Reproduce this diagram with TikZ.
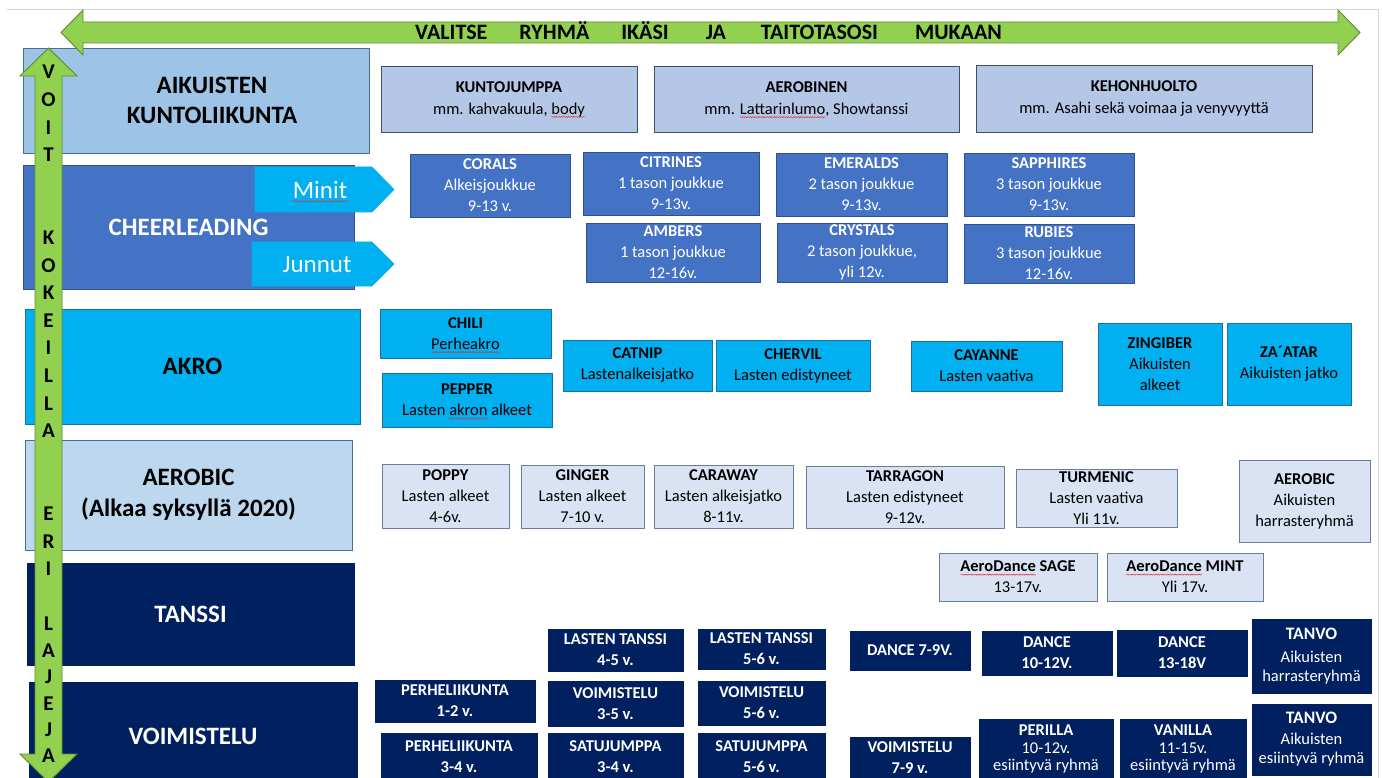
\documentclass[tikz,border=0pt]{standalone}
\usepackage{fontspec}
\setmainfont{Carlito}
\usetikzlibrary{decorations.pathmorphing}
\definecolor{arrowgreen}{HTML}{92D050}
\definecolor{arrowline}{HTML}{5E8C31}
\definecolor{aikfill}{HTML}{9DC3E6}
\definecolor{catline}{HTML}{41719C}
\definecolor{rowone}{HTML}{B4C7E7}
\definecolor{rowoneline}{HTML}{3E4F6B}
\definecolor{cheer}{HTML}{4472C4}
\definecolor{cheerline}{HTML}{2F528F}
\definecolor{akro}{HTML}{00B0F0}
\definecolor{akroline}{HTML}{1A6FA3}
\definecolor{aerocat}{HTML}{BDD7EE}
\definecolor{aerobox}{HTML}{DAE3F3}
\definecolor{aeroline}{HTML}{6B7C99}
\definecolor{navy}{HTML}{002060}
\definecolor{frameline}{HTML}{D3D3D3}
\definecolor{squigred}{HTML}{E03030}
\newsavebox\sqbox
\newlength\sqlen
\newcommand\squig[1]{\sbox\sqbox{#1}\setlength\sqlen{\wd\sqbox}\usebox\sqbox\tikz[overlay]\draw[squigred, line width=0.45pt, decorate, decoration={snake, amplitude=0.6pt, segment length=2.4pt}] (-\sqlen,-2.8pt) -- (0pt,-2.8pt);}
\newcommand\smalltxt{\fontsize{16.5}{17}\selectfont\mdseries}
% \bx{style}{name}{x1}{y1}{x2}{y2}{text}
\newcommand\bx[7]{%
  \pgfmathsetmacro\bxw{#5-#3}\pgfmathsetmacro\bxh{#6-#4}%
  \pgfmathsetmacro\bxcx{(#3+#5)/2}\pgfmathsetmacro\bxcy{(#4+#6)/2}%
  \node[#1, minimum width=\bxw pt, minimum height=\bxh pt] (#2) at (\bxcx,\bxcy) {#7};}
\tikzset{
  box/.style={inner sep=0pt, outer sep=0pt, align=center, line width=0.9pt, anchor=center},
  cat/.style={box, font=\fontsize{25}{30.5}\selectfont\bfseries},
  sm/.style={box, font=\fontsize{16.5}{21}\selectfont},
  r1/.style={sm, font=\fontsize{16.5}{22}\selectfont, fill=rowone, draw=rowoneline},
  ch/.style={sm, fill=cheer, draw=cheerline, text=white},
  ak/.style={sm, fill=akro, draw=akroline},
  ae/.style={sm, fill=aerobox, draw=aeroline},
  nv/.style={box, fill=navy, draw=navy, text=white, font=\fontsize{16.5}{21}\selectfont\bfseries},
  greenarrow/.style={fill=arrowgreen, draw=arrowline, line width=0.9pt},
  tagarrow/.style={fill=akro, draw=akro, line width=0.6pt},
  tagtext/.style={inner sep=0pt, text=white, font=\fontsize{25}{30}\selectfont},
}
\begin{document}
\begin{tikzpicture}[x=1pt,y=-1pt]
\useasboundingbox (0,0) rectangle (1382,778);
\clip (0,0) rectangle (1382,778);
\fill[white] (0,0) rectangle (1382,778);
\draw[frameline, line width=1pt] (7,10) -- (1378,10) -- (1378,778);

% category boxes
\bx{cat, fill=aikfill, draw=catline}{aik}{23}{48}{369}{153}{\hspace*{32pt}AIKUISTEN\\\hspace*{32pt}KUNTOLIIKUNTA}
\bx{cat, fill=cheer, draw=cheerline, text=white}{cheerC}{23}{165}{354}{289}{CHEERLEADING}
\bx{cat, fill=akro, draw=akroline}{akroC}{25}{309}{360}{424}{AKRO}
\bx{cat, fill=aerocat, draw=catline}{aeroC}{25}{440}{352}{550}{AEROBIC\\(Alkaa syksyllä 2020)}
\bx{cat, fill=navy, draw=navy, text=white}{tanssiC}{27}{563}{354}{665}{TANSSI}
\bx{cat, fill=navy, draw=navy, text=white}{voimC}{29}{682}{357}{790}{VOIMISTELU}

% Minit / Junnut tags
\draw[tagarrow] (255,167) -- (372,167) -- (394,189.5) -- (372,212) -- (255,212) -- cycle;
\node[tagtext] (minit) at (320,190) {\squig{Minit}};
\draw[tagarrow] (252,242) -- (372,242) -- (394,264) -- (372,286) -- (252,286) -- cycle;
\node[tagtext] (junnut) at (317,265) {Junnut};

% row 1
\bx{r1}{kunto}{381}{66}{637}{132}{\textbf{KUNTOJUMPPA}\\mm. kahvakuula, \squig{body}}
\bx{r1}{aerobinen}{654}{66}{959}{132}{\textbf{AEROBINEN}\\mm. \squig{Lattarinlumo}, Showtanssi}
\bx{r1}{kehon}{976}{65}{1312}{132}{\textbf{KEHONHUOLTO}\\mm. Asahi sekä voimaa ja venyvyyttä}

% cheerleading
\bx{ch}{corals}{410}{154}{570}{217}{\textbf{CORALS}\\Alkeisjoukkue\\9-13 v.}
\bx{ch}{citrines}{583}{152}{759}{215}{\textbf{CITRINES}\\1 tason joukkue\\9-13v.}
\bx{ch}{ambers}{586}{223}{760}{282}{\textbf{AMBERS}\\1 tason joukkue\\12-16v.}
\bx{ch}{emeralds}{776}{153}{947}{216}{\textbf{EMERALDS}\\2 tason joukkue\\9-13v.}
\bx{ch}{crystals}{777}{223}{947}{282}{\textbf{CRYSTALS}\\2 tason joukkue,\\yli 12v.}
\bx{ch}{sapphires}{964}{153}{1134}{216}{\textbf{SAPPHIRES}\\3 tason joukkue\\9-13v.}
\bx{ch}{rubies}{964}{224}{1134}{283}{\textbf{RUBIES}\\3 tason joukkue\\12-16v.}

% akro
\bx{ak}{chili}{380}{309}{551}{358}{\textbf{CHILI}\\\squig{Perheakro}}
\bx{ak}{pepper}{382}{373}{552}{427}{\textbf{PEPPER}\\Lasten \squig{akron} alkeet}
\bx{ak}{catnip}{563}{340}{712}{391}{\textbf{CATNIP}\\Lastenalkeisjatko}
\bx{ak}{chervil}{716}{340}{870}{391}{\textbf{CHERVIL}\\Lasten edistyneet}
\bx{ak}{cayanne}{911}{341}{1062}{391}{\textbf{CAYANNE}\\Lasten vaativa}
\bx{ak}{zingiber}{1098}{323}{1222}{405}{\textbf{ZINGIBER}\\Aikuisten\\alkeet}
\bx{ak}{zaatar}{1227}{323}{1351}{405}{\textbf{ZA´ATAR}\\Aikuisten jatko}

% aerobic
\bx{ae}{poppy}{382}{464}{509}{528}{\textbf{POPPY}\\Lasten alkeet\\4-6v.}
\bx{ae}{ginger}{521}{465}{644}{528}{\textbf{GINGER}\\Lasten alkeet\\7-10 v.}
\bx{ae}{caraway}{654}{465}{793}{528}{\textbf{CARAWAY}\\Lasten alkeisjatko\\8-11v.}
\bx{ae}{tarragon}{806}{466}{1004}{528}{\textbf{TARRAGON}\\Lasten edistyneet\\9-12v.}
\bx{ae}{turmenic}{1016}{469}{1177}{527}{\textbf{TURMENIC}\\Lasten vaativa\\Yli 11v.}
\bx{ae}{aerobicA}{1239}{460}{1370}{542}{\textbf{AEROBIC}\\Aikuisten\\harrasteryhmä}
\bx{ae}{sage}{939}{553}{1097}{601}{\textbf{\squig{AeroDance} SAGE}\\13-17v.}
\bx{ae}{mint}{1107}{553}{1263}{601}{\textbf{\squig{AeroDance} MINT}\\Yli 17v.}

% tanssi
\bx{nv}{lt45}{548}{629}{683}{671}{LASTEN TANSSI\\4-5 v.}
\bx{nv}{lt56}{698}{629}{825}{669}{LASTEN TANSSI\\5-6 v.}
\bx{nv}{d79}{850}{631}{970}{670}{DANCE 7-9V.}
\bx{nv}{d1012}{982}{631}{1112}{675}{DANCE\\10-12V.}
\bx{nv}{d1318}{1117}{630}{1247}{676}{DANCE\\13-18V}
\bx{nv}{tanvo1}{1252}{619}{1371}{693}{{\fontsize{17.5}{21}\selectfont TANVO}\\[2pt]{\smalltxt Aikuisten}\\[-2pt]{\smalltxt harrasteryhmä}}

% voimistelu
\bx{nv}{perhe12}{375}{680}{535}{722}{PERHELIIKUNTA\\1-2 v.}
\bx{nv}{v35}{548}{681}{683}{726}{VOIMISTELU\\3-5 v.}
\bx{nv}{v56}{698}{681}{825}{725}{VOIMISTELU\\5-6 v.}
\bx{nv}{perhe34}{381}{733}{537}{780}{PERHELIIKUNTA\\3-4 v.}
\bx{nv}{satu34}{548}{733}{683}{780}{SATUJUMPPA\\3-4 v.}
\bx{nv}{satu56}{698}{733}{825}{780}{SATUJUMPPA\\5-6 v.}
\bx{nv}{v79}{850}{737}{970}{779}{VOIMISTELU\\7-9 v.}
\bx{nv}{perilla}{979}{719}{1113}{779}{PERILLA\\[-3pt]{\smalltxt 10-12v.}\\[-4pt]{\smalltxt esiintyvä ryhmä}}
\bx{nv}{vanilla}{1120}{719}{1246}{779}{VANILLA\\[-3pt]{\smalltxt 11-15v.}\\[-4pt]{\smalltxt esiintyvä ryhmä}}
\bx{nv}{tanvo2}{1252}{704}{1371}{775}{{\fontsize{17.5}{21}\selectfont TANVO}\\[0pt]{\smalltxt Aikuisten}\\[-2pt]{\smalltxt esiintyvä ryhmä}}

% vertical green arrow
\draw[greenarrow] (48.5,48) -- (77,76) -- (62,76) -- (62,754) -- (77,754) -- (48.5,782) -- (20,754) -- (35,754) -- (35,76) -- (20,76) -- cycle;
\node[inner sep=0pt, anchor=north, align=center, font=\fontsize{21}{27.6}\selectfont\bfseries] (vtext) at (48.5,65)
  {V\\O\\I\\T\\[55.2pt]K\\O\\K\\E\\I\\L\\L\\A\\[55.2pt]E\\R\\I\\[27.6pt]L\\[-1.2pt]A\\[-1.2pt]J\\[-1.2pt]E\\[-1.2pt]J\\[-1.2pt]A};

% horizontal green arrow
\draw[greenarrow] (61,32.5) -- (83,10) -- (83,22) -- (1338,22) -- (1338,10) -- (1360,32.5) -- (1338,55) -- (1338,43) -- (83,43) -- (83,55) -- cycle;
\node[inner sep=0pt, anchor=base west, font=\fontsize{22}{26}\selectfont\bfseries] (htext) at (415,40)
  {VALITSE\hspace{32pt}RYHMÄ\hspace{32pt}IKÄSI\hspace{37pt}JA\hspace{35pt}TAITOTASOSI\hspace{37pt}MUKAAN};
\end{tikzpicture}
\end{document}
